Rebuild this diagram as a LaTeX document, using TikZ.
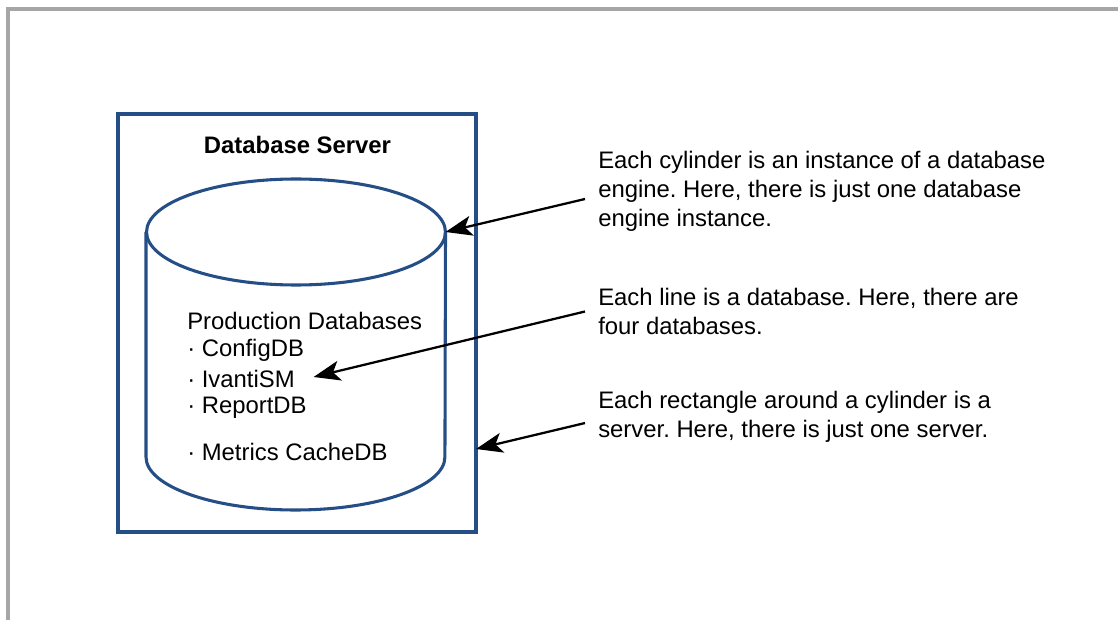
\documentclass[tikz,border=0pt]{standalone}
\usepackage{fontspec}
\setmainfont{Liberation Sans}
\usetikzlibrary{positioning,arrows.meta}
\definecolor{serverblue}{RGB}{38,78,134}
\definecolor{framegray}{RGB}{166,166,166}
\frenchspacing

\begin{document}
\begin{tikzpicture}[x=0.75pt,y=-0.75pt,
        every node/.style={inner sep=0pt, font=\fontsize{17.9}{21.75}\selectfont},
        note/.style={anchor=west, align=left},
        blueline/.style={draw=serverblue, line width=2.3pt},
        pointer/.style={-{Stealth[length=20pt,width=15pt,inset=5pt]}, line width=1.7pt}]
        \useasboundingbox (0,0) rectangle (1118,620);
        \draw[framegray, line width=2.3pt] (6,9) -- (1118,9);
        \draw[framegray, line width=2.3pt] (8,8) -- (8,620);
        % server box and engine
        \node[blueline, minimum width=268.5pt, minimum height=313.5pt] (server) at (297,323) {};
        \node[font=\fontsize{17.9}{21.75}\selectfont\bfseries] (title) at (297.5,145) {Database Server};
        \draw[blueline] (146,232) -- (146,457) arc[start angle=180, end angle=360, x radius=112.1pt, y radius=39.75pt] -- (445.5,232);
        \draw[blueline] (296,232) ellipse [x radius=112.1pt, y radius=39.75pt];
        \coordinate (cyltop) at (445.5,232);
        \coordinate (srvedge) at (476,449);
        % databases
        \node[note] (dbhead) at (187,321) {Production Databases};
        \node[note] (db1) at (187,350) {· ConfigDB};
        \node[note] (db2) at (187,379) {· IvantiSM};
        \node[note] (db3) at (187,408) {· ReportDB};
        \node[note] (db4) at (187,452) {· Metrics CacheDB};
        % notes
        \node[note] (cylnote) at (598,191) {Each cylinder is an instance of a database\\engine. Here, there is just one database\\engine instance.};
        \node[note] (linenote) at (598,311.5) {Each line is a database. Here, there are\\four databases.};
        \node[note] (srvnote) at (598,416.5) {Each rectangle around a cylinder is a\\server. Here, there is just one server.};
        \draw[pointer] ([xshift=-9.75pt,yshift=-6pt]cylnote.west) -- (cyltop);
        \draw[pointer] ([xshift=-9.75pt]linenote.west) -- ([xshift=14pt,yshift=1.5pt]db2.east);
        \draw[pointer] ([xshift=-9.75pt,yshift=-4.9pt]srvnote.west) -- (srvedge);
\end{tikzpicture}
\end{document}
